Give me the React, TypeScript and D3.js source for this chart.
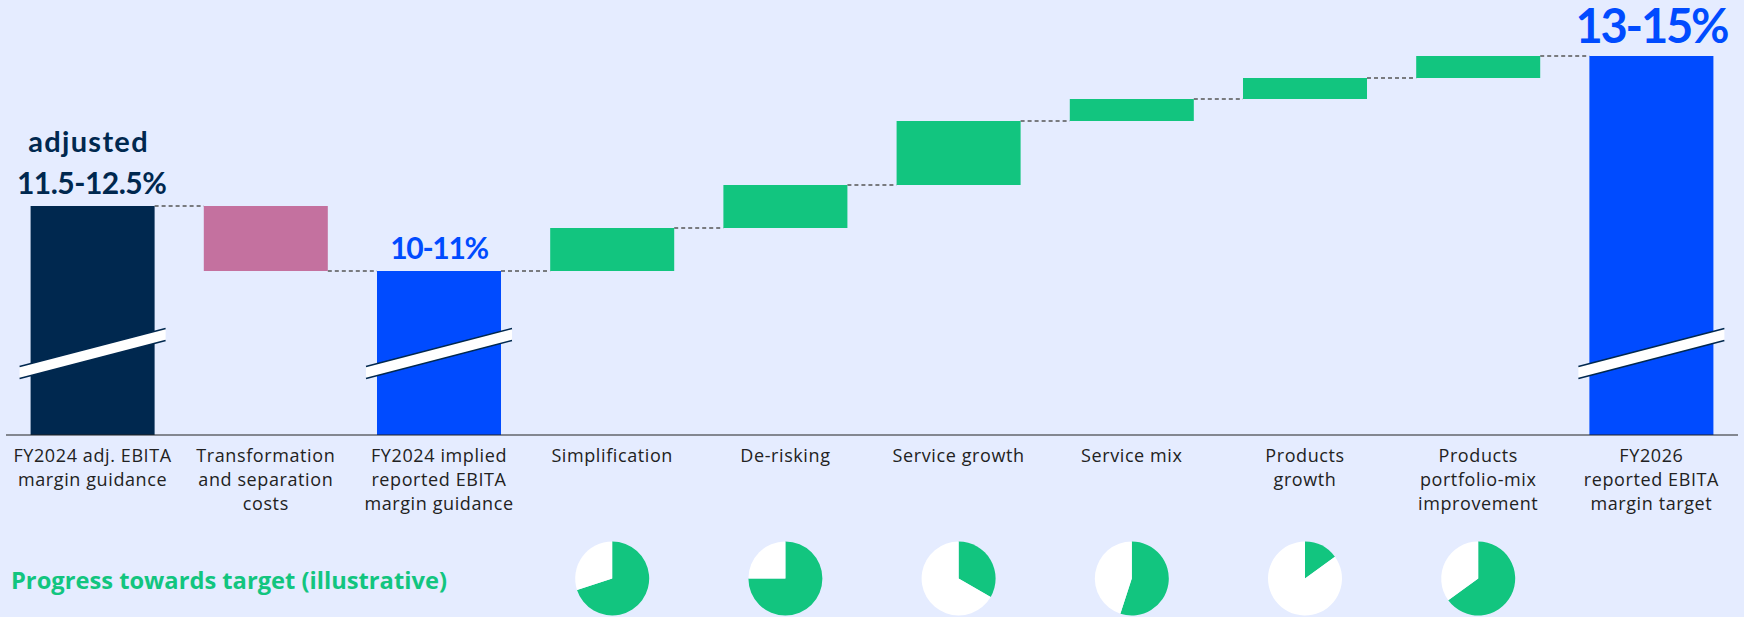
import React from "react";
import * as d3 from "d3";

const categories: string[][] = [
  ["FY2024 adj. EBITA", "margin guidance"],
  ["Transformation", "and separation", "costs"],
  ["FY2024 implied", "reported EBITA", "margin guidance"],
  ["Simplification"],
  ["De-risking"],
  ["Service growth"],
  ["Service mix"],
  ["Products", "growth"],
  ["Products", "portfolio-mix", "improvement"],
  ["FY2026", "reported EBITA", "margin target"],
];
// kinds: total / decrease / increase
const kinds = ["total", "decrease", "total", "increase", "increase", "increase", "increase", "increase", "increase", "total"];
// illustrative index values (broken axis)
const values = [22.9, -6.5, 16.4, 4.3, 4.3, 6.4, 2.2, 2.1, 2.2, 37.9];
const totalLabels = ["11.5-12.5%", "", "10-11%", "", "", "", "", "", "", "13-15%"];
const progress = [null, null, null, 0.7, 0.75, 0.333, 0.55, 0.15, 0.65, null];

const W = 1744;
const H = 617;
const BG = "#E5ECFF";
const NAVY = "#00284F";
const PINK = "#C4719F";
const BLUE = "#004BFF";
const GREEN = "#12C57F";

export default function App() {
  const x = d3.scaleBand<number>().domain(d3.range(categories.length)).range([6, 1738]).paddingInner(0.284).paddingOuter(0.142);
  const y = d3.scaleLinear().domain([0, 40]).range([435, 35]);
  const bw = x.bandwidth();

  let level = 0;
  const segs = values.map((v, i) => {
    let y0: number, y1: number;
    if (kinds[i] === "total") {
      y0 = 0;
      y1 = v;
      level = v;
    } else {
      y0 = level;
      y1 = level + v;
      level = y1;
    }
    return { i, y0, y1, end: level };
  });

  const fillFor = (i: number) => {
    if (i === 0) return NAVY;
    if (kinds[i] === "decrease") return PINK;
    if (kinds[i] === "total") return BLUE;
    return GREEN;
  };

  const pie = d3.pie<number>().sort(null).value((d) => d);
  const arc = d3.arc<d3.PieArcDatum<number>>().innerRadius(0).outerRadius(37);

  const boldFont = "Lato, 'Open Sans', sans-serif";
  const textFont = "'Open Sans', Lato, sans-serif";

  return (
    <svg width={W} height={H} style={{ position: "absolute", left: 0, top: 0, display: "block" }} fontFamily={boldFont}>
      <rect x={0} y={0} width={W} height={H} fill={BG} />
      {/* connectors */}
      {segs.slice(0, -1).map((s) => (
        <line
          key={"c" + s.i}
          x1={(x(s.i) as number) + bw}
          x2={x(s.i + 1) as number}
          y1={y(s.end)}
          y2={y(s.end)}
          stroke="#555"
          strokeWidth={1.3}
          strokeDasharray="4,3"
        />
      ))}
      {/* bars */}
      {segs.map((s) => (
        <rect
          key={"b" + s.i}
          x={x(s.i)}
          width={bw}
          y={y(Math.max(s.y0, s.y1))}
          height={Math.abs(y(s.y0) - y(s.y1))}
          fill={fillFor(s.i)}
        />
      ))}
      {/* axis break marks on total bars */}
      {segs
        .filter((s) => kinds[s.i] === "total")
        .map((s) => {
          const xl = (x(s.i) as number) - 11;
          const xr = (x(s.i) as number) + bw + 11;
          const yl = 372.5;
          const yr = 334.5;
          const h = 6;
          return (
            <g key={"br" + s.i}>
              <polygon points={`${xl},${yl - h} ${xr},${yr - h} ${xr},${yr + h} ${xl},${yl + h}`} fill="#fff" />
              <line x1={xl} y1={yl - h} x2={xr} y2={yr - h} stroke={NAVY} strokeWidth={1.6} />
              <line x1={xl} y1={yl + h} x2={xr} y2={yr + h} stroke={NAVY} strokeWidth={1.6} />
            </g>
          );
        })}
      {/* axis line */}
      <line x1={6} x2={1738} y1={435} y2={435} stroke="#222" strokeWidth={1.2} />
      {/* total labels */}
      <text x={(x(0) as number) + bw / 2 - 4} y={152} textAnchor="middle" fontSize={29} fontWeight={700} fill={NAVY} letterSpacing={1.3}>
        adjusted
      </text>
      <text x={(x(0) as number) + bw / 2 - 1} y={194} textAnchor="middle" fontSize={30} fontWeight={700} fill={NAVY} letterSpacing={-0.5}>
        {totalLabels[0]}
      </text>
      <text x={(x(2) as number) + bw / 2} y={259} textAnchor="middle" fontSize={30} fontWeight={700} fill={BLUE} letterSpacing={-1.3}>
        {totalLabels[2]}
      </text>
      <text x={(x(9) as number) + bw / 2} y={43} textAnchor="middle" fontSize={47} fontWeight={700} fill={BLUE} letterSpacing={-2.2}>
        {totalLabels[9]}
      </text>
      {/* category labels */}
      {categories.map((lines, i) => (
        <text key={"l" + i} x={(x(i) as number) + bw / 2} y={462} textAnchor="middle" fontSize={18} fill="#222" fontFamily={textFont} letterSpacing={0.6}>
          {lines.map((ln, j) => (
            <tspan key={j} x={(x(i) as number) + bw / 2} dy={j === 0 ? 0 : 24}>
              {ln}
            </tspan>
          ))}
        </text>
      ))}
      {/* progress label */}
      <text x={11} y={589} fontSize={23.7} fontWeight={700} fill={GREEN} fontFamily={textFont}>
        Progress towards target (illustrative)
      </text>
      {/* progress pies */}
      {progress.map((p, i) => {
        if (p === null) return null;
        const arcs = pie([p, 1 - p]);
        return (
          <g key={"p" + i} transform={`translate(${(x(i) as number) + bw / 2},578.5)`}>
            {arcs.map((a, j) => (
              <path key={j} d={arc(a) as string} fill={j === 0 ? GREEN : "#fff"} />
            ))}
          </g>
        );
      })}
    </svg>
  );
}
